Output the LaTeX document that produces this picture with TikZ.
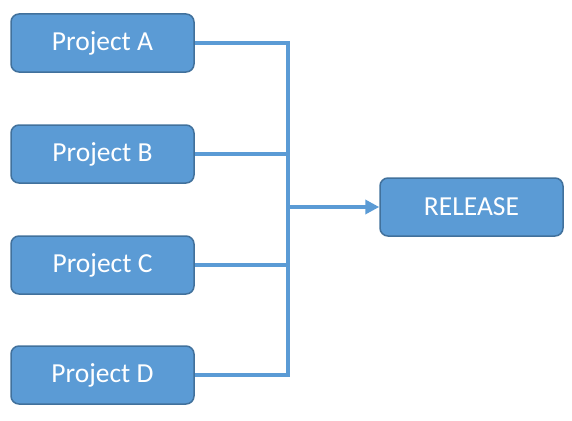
\documentclass[tikz,border=0pt]{standalone}
\usepackage{fontspec}
\setmainfont{Carlito}
\usetikzlibrary{arrows.meta}
\definecolor{boxfill}{HTML}{5B9BD5}
\definecolor{boxedge}{HTML}{41719C}
\tikzset{
  projbox/.style={draw=boxedge, fill=boxfill, line width=1.5pt, rounded corners=8pt,
    minimum width=183pt, minimum height=58pt, inner sep=0pt, text=white,
    font=\fontsize{27.5}{32}\selectfont},
  link/.style={draw=boxfill, line width=4pt}
}
\begin{document}
\begin{tikzpicture}[x=1pt,y=-1pt]
\useasboundingbox (0,0) rectangle (572,420);
\node[projbox] (A) at (102.5,43) {Project A};
\node[projbox] (B) at (102.5,154) {Project B};
\node[projbox] (C) at (102.5,265) {Project C};
\node[projbox] (D) at (102.5,375) {Project D};
\node[projbox] (R) at (471.5,207) {RELEASE};
\coordinate (J) at (287.5,207);
\draw[link] (A.east) -- (J |- A.east) -- (J |- D.east) -- (D.east);
\draw[link] (B.east) -- (J |- B.east);
\draw[link] (C.east) -- (J |- C.east);
\draw[link, -{Triangle[length=14pt,width=14pt]}] (J) -- (R.west);
\end{tikzpicture}
\end{document}
